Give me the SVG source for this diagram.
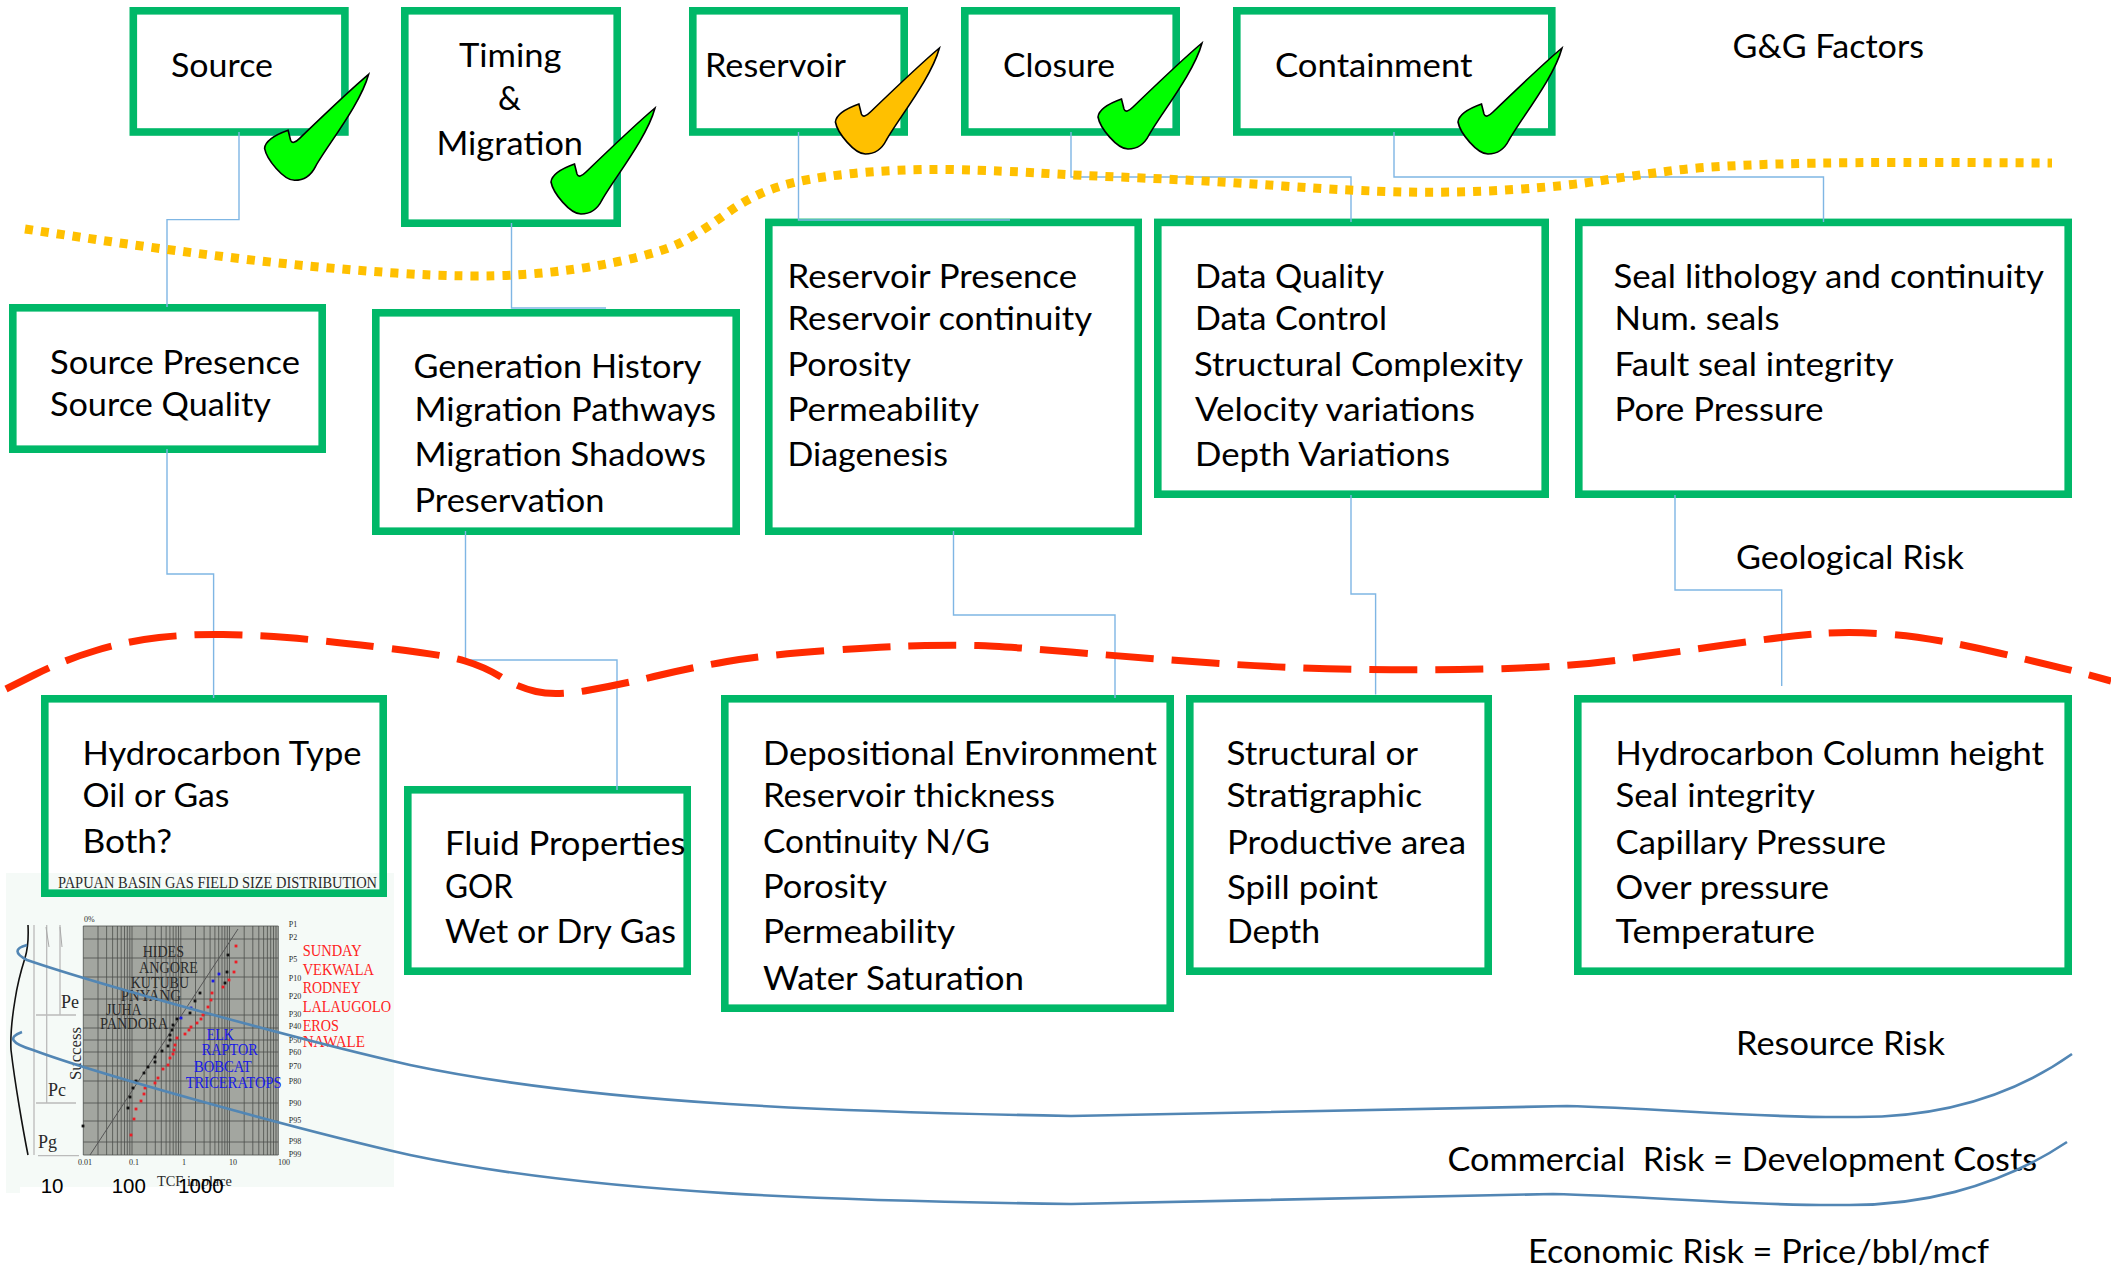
<svg xmlns="http://www.w3.org/2000/svg" width="2111" height="1268" viewBox="0 0 2111 1268">
<style>
text{font-family:"Lato","Liberation Sans",sans-serif;fill:#000}
.t{font-size:33.5px;transform:translate(-1px,1px)}
.box{fill:none;stroke:#00b868;stroke-width:7.6}
.conn{fill:none;stroke:#7fb6e4;stroke-width:1.4}
.yel{fill:none;stroke:#ffc000;stroke-width:9;stroke-dasharray:8 8}
.red{fill:none;stroke:#ff2a00;stroke-width:7;stroke-dasharray:48 18}
.blu{fill:none;stroke:#5286b4;stroke-width:2.6}
.ck{stroke:#000;stroke-width:1.6}
.g{fill:#00ff00}.o{fill:#ffc000}
.s text{font-family:"Liberation Serif",serif;fill:#2a2a2a}
.p{font-size:8px}.n{font-size:17px}
.s text.rd{fill:#ff2222}.s text.bl{fill:#1a1ae6}
.sa{font-family:"Liberation Sans",sans-serif;font-size:20.5px}
.grid{fill:none;stroke:#4c4f4b;stroke-width:.8}
</style>
<defs>
<path id="check" d="M0,0C-12,10-42,38-69,64Q-76,71-78,66L-80.5,56Q-103,64-104,74C-102,85-85,106-74,106C-63,106-57,100-53,92C-42,72-8,30 0,0Z"/>
<path id="dec" d="M0,926V1155M14.7,926V1155M23.3,926V1155M29.3,926V1155M34.1,926V1155M37.9,926V1155M41.2,926V1155M44,926V1155M46.5,926V1155"/>
<g id="bd"><rect x="-1.4" y="-1.4" width="2.8" height="2.8"/></g>
</defs>

<rect id="chart-bg" x="6" y="873" width="388" height="314" fill="#f5faf7"/>
<rect x="6" y="1187" width="14" height="6" fill="#f5faf7"/>

<g id="source"><rect class="box" x="133.3" y="10.8" width="211.6" height="121.2"/><text class="t" x="172" y="75.7" textLength="102" lengthAdjust="spacingAndGlyphs">Source</text></g>
<g id="timing"><rect class="box" x="404.8" y="10.8" width="212.4" height="212.4"/><text class="t" x="460" y="66" textLength="102.5" lengthAdjust="spacingAndGlyphs">Timing</text><text class="t" x="499" y="109" textLength="23" lengthAdjust="spacingAndGlyphs">&amp;</text><text class="t" x="437.5" y="154" textLength="146.5" lengthAdjust="spacingAndGlyphs">Migration</text></g>
<g id="reservoir"><rect class="box" x="692.8" y="10.8" width="211.4" height="121.2"/><text class="t" x="706" y="75.7" textLength="141" lengthAdjust="spacingAndGlyphs">Reservoir</text></g>
<g id="closure"><rect class="box" x="964.8" y="10.8" width="211.4" height="121.2"/><text class="t" x="1004" y="75.7" textLength="112" lengthAdjust="spacingAndGlyphs">Closure</text></g>
<g id="containment"><rect class="box" x="1236.8" y="10.8" width="315" height="121.2"/><text class="t" x="1276" y="75.7" textLength="197.5" lengthAdjust="spacingAndGlyphs">Containment</text></g>

<g id="source-details"><rect class="box" x="12.8" y="307.8" width="309.4" height="141.4"/><text class="t" x="51" y="372.5" textLength="250" lengthAdjust="spacingAndGlyphs">Source Presence</text><text class="t" x="51" y="415" textLength="221" lengthAdjust="spacingAndGlyphs">Source Quality</text></g>
<g id="migration-details"><rect class="box" x="375.8" y="312.8" width="360.4" height="218.4"/><text class="t" x="414.5" y="377" textLength="288" lengthAdjust="spacingAndGlyphs">Generation History</text><text class="t" x="415.5" y="420" textLength="301.5" lengthAdjust="spacingAndGlyphs">Migration Pathways</text><text class="t" x="415.5" y="465" textLength="291.5" lengthAdjust="spacingAndGlyphs">Migration Shadows</text><text class="t" x="415.5" y="510.7" textLength="190" lengthAdjust="spacingAndGlyphs">Preservation</text></g>
<g id="reservoir-details"><rect class="box" x="768.8" y="222.4" width="369.4" height="308.8"/><text class="t" x="788.5" y="287" textLength="289.5" lengthAdjust="spacingAndGlyphs">Reservoir Presence</text><text class="t" x="788.5" y="329" textLength="304.5" lengthAdjust="spacingAndGlyphs">Reservoir continuity</text><text class="t" x="788.5" y="375" textLength="123.5" lengthAdjust="spacingAndGlyphs">Porosity</text><text class="t" x="788.5" y="420" textLength="191.5" lengthAdjust="spacingAndGlyphs">Permeability</text><text class="t" x="788.5" y="465" textLength="160.5" lengthAdjust="spacingAndGlyphs">Diagenesis</text></g>
<g id="closure-details"><rect class="box" x="1157.8" y="222.4" width="387.4" height="271.8"/><text class="t" x="1196" y="287" textLength="189" lengthAdjust="spacingAndGlyphs">Data Quality</text><text class="t" x="1196" y="329" textLength="192" lengthAdjust="spacingAndGlyphs">Data Control</text><text class="t" x="1195" y="375" textLength="329" lengthAdjust="spacingAndGlyphs">Structural Complexity</text><text class="t" x="1196" y="420" textLength="280" lengthAdjust="spacingAndGlyphs">Velocity variations</text><text class="t" x="1196" y="465" textLength="255" lengthAdjust="spacingAndGlyphs">Depth Variations</text></g>
<g id="seal-details"><rect class="box" x="1578.8" y="222.4" width="489.4" height="271.8"/><text class="t" x="1614.5" y="287" textLength="430.5" lengthAdjust="spacingAndGlyphs">Seal lithology and continuity</text><text class="t" x="1615.6" y="329" textLength="165" lengthAdjust="spacingAndGlyphs">Num. seals</text><text class="t" x="1615.6" y="375" textLength="279" lengthAdjust="spacingAndGlyphs">Fault seal integrity</text><text class="t" x="1615.6" y="420" textLength="209" lengthAdjust="spacingAndGlyphs">Pore Pressure</text></g>

<g id="hydrocarbon-type"><rect class="box" x="44.8" y="698.8" width="338.4" height="194.4"/><text class="t" x="83.5" y="764" textLength="279" lengthAdjust="spacingAndGlyphs">Hydrocarbon Type</text><text class="t" x="83.5" y="806" textLength="147" lengthAdjust="spacingAndGlyphs">Oil or Gas</text><text class="t" x="83.5" y="852" textLength="89.5" lengthAdjust="spacingAndGlyphs">Both?</text></g>
<g id="fluid"><rect class="box" x="407.8" y="789.8" width="279.4" height="181.4"/><text class="t" x="446" y="854" textLength="240.6" lengthAdjust="spacingAndGlyphs">Fluid Properties</text><text class="t" x="446" y="897" textLength="68" lengthAdjust="spacingAndGlyphs">GOR</text><text class="t" x="446" y="942" textLength="231" lengthAdjust="spacingAndGlyphs">Wet or Dry Gas</text></g>
<g id="depositional"><rect class="box" x="724.8" y="698.8" width="445.4" height="309.4"/><text class="t" x="764" y="764" textLength="394" lengthAdjust="spacingAndGlyphs">Depositional Environment</text><text class="t" x="764" y="806" textLength="292" lengthAdjust="spacingAndGlyphs">Reservoir thickness</text><text class="t" x="764" y="852" textLength="227" lengthAdjust="spacingAndGlyphs">Continuity N/G</text><text class="t" x="764" y="897" textLength="124" lengthAdjust="spacingAndGlyphs">Porosity</text><text class="t" x="764" y="942" textLength="192" lengthAdjust="spacingAndGlyphs">Permeability</text><text class="t" x="764" y="989" textLength="261" lengthAdjust="spacingAndGlyphs">Water Saturation</text></g>
<g id="structural"><rect class="box" x="1189.8" y="698.8" width="298.4" height="272.4"/><text class="t" x="1227.5" y="764" textLength="191.5" lengthAdjust="spacingAndGlyphs">Structural or</text><text class="t" x="1227.5" y="806" textLength="195.5" lengthAdjust="spacingAndGlyphs">Stratigraphic</text><text class="t" x="1228" y="852.5" textLength="239" lengthAdjust="spacingAndGlyphs">Productive area</text><text class="t" x="1228" y="897.6" textLength="151" lengthAdjust="spacingAndGlyphs">Spill point</text><text class="t" x="1228" y="942" textLength="93" lengthAdjust="spacingAndGlyphs">Depth</text></g>
<g id="column"><rect class="box" x="1577.8" y="698.8" width="490.4" height="272.4"/><text class="t" x="1616.6" y="764" textLength="428.4" lengthAdjust="spacingAndGlyphs">Hydrocarbon Column height</text><text class="t" x="1616.6" y="806" textLength="199.4" lengthAdjust="spacingAndGlyphs">Seal integrity</text><text class="t" x="1616.6" y="852.5" textLength="270.4" lengthAdjust="spacingAndGlyphs">Capillary Pressure</text><text class="t" x="1616.6" y="897.6" textLength="213.4" lengthAdjust="spacingAndGlyphs">Over pressure</text><text class="t" x="1616.6" y="942" textLength="199.4" lengthAdjust="spacingAndGlyphs">Temperature</text></g>

<g id="level-labels">
<text class="t" x="1733.5" y="57" textLength="191.5" lengthAdjust="spacingAndGlyphs">G&amp;G Factors</text>
<text class="t" x="1737" y="567.5" textLength="228" lengthAdjust="spacingAndGlyphs">Geological Risk</text>
<text class="t" x="1737" y="1054" textLength="209" lengthAdjust="spacingAndGlyphs">Resource Risk</text>
<text class="t" x="1448.6" y="1170" textLength="589.4" lengthAdjust="spacingAndGlyphs" xml:space="preserve">Commercial  Risk = Development Costs</text>
<text class="t" x="1529" y="1262" textLength="461" lengthAdjust="spacingAndGlyphs">Economic Risk = Price/bbl/mcf</text>
</g>

<g id="chart">
<g class="s">
<text x="58" y="888" font-size="16" textLength="319" lengthAdjust="spacingAndGlyphs">PAPUAN BASIN GAS FIELD SIZE DISTRIBUTION</text>
</g>
<rect x="83.3" y="926" width="195" height="229" fill="#a3a6a0"/>
<g class="grid">
<use href="#dec" x="83.3"/><use href="#dec" x="132"/><use href="#dec" x="180.8"/><use href="#dec" x="229.5"/>
<path d="M278.3,926V1155M83.3,926H278.3M83.3,939H278.3M83.3,958H278.3M83.3,977H278.3M83.3,999H278.3M83.3,1015H278.3M83.3,1028H278.3M83.3,1040H278.3M83.3,1052H278.3M83.3,1066H278.3M83.3,1081H278.3M83.3,1103H278.3M83.3,1121H278.3M83.3,1142H278.3M83.3,1155H278.3"/>
</g>
<path d="M90,1155L238,929" stroke="#555" stroke-width="1" fill="none"/>
<path d="M28,925Q29,945 25,958Q18,980 15,1000Q10,1030 11,1050Q14,1075 19,1105Q24,1135 28,1155" fill="none" stroke="#111" stroke-width="1.6"/>
<path d="M34,925V1155M46.7,925V1103M60,925V1015M36,1015H76M36,1103H76M38,1155.7H79" fill="none" stroke="#bbb" stroke-width="1.3"/>
<path d="M46,927L49,947M60,927L62,947" fill="none" stroke="#aaa" stroke-width="1"/>
<g class="s">
<text class="p" x="84" y="921.7">0%</text>
<text class="p" x="288.7" y="927">P1</text><text class="p" x="288.7" y="940">P2</text><text class="p" x="288.7" y="962">P5</text><text class="p" x="288.7" y="981">P10</text><text class="p" x="288.7" y="999">P20</text><text class="p" x="288.7" y="1017">P30</text><text class="p" x="288.7" y="1029">P40</text><text class="p" x="288.7" y="1043">P50</text><text class="p" x="288.7" y="1055">P60</text><text class="p" x="288.7" y="1069">P70</text><text class="p" x="288.7" y="1084">P80</text><text class="p" x="288.7" y="1106">P90</text><text class="p" x="288.7" y="1123">P95</text><text class="p" x="288.7" y="1144">P98</text><text class="p" x="288.7" y="1157">P99</text>
<text class="p" x="78" y="1165">0.01</text><text class="p" x="129" y="1165">0.1</text><text class="p" x="182" y="1165">1</text><text class="p" x="229" y="1165">10</text><text class="p" x="278" y="1165">100</text>
<text x="157" y="1186" font-size="15" textLength="75" lengthAdjust="spacingAndGlyphs">TCF in place</text>
<text x="61" y="1008" font-size="18">Pe</text><text x="48" y="1095.7" font-size="18">Pc</text><text x="38" y="1148" font-size="18">Pg</text>
<text transform="translate(81,1080) rotate(-90)" font-size="17" textLength="53" lengthAdjust="spacingAndGlyphs">Success</text>
<text class="n" x="142.7" y="957" textLength="41.3" lengthAdjust="spacingAndGlyphs">HIDES</text>
<text class="n" x="139" y="972.7" textLength="59" lengthAdjust="spacingAndGlyphs">ANGORE</text>
<text class="n" x="130.7" y="988" textLength="58.3" lengthAdjust="spacingAndGlyphs">KUTUBU</text>
<text class="n" x="120.7" y="1000.7" textLength="60.3" lengthAdjust="spacingAndGlyphs">PNYANG</text>
<text class="n" x="106" y="1015" textLength="35.7" lengthAdjust="spacingAndGlyphs">JUHA</text>
<text class="n" x="100" y="1029" textLength="68" lengthAdjust="spacingAndGlyphs">PANDORA</text>
<text class="n rd" x="302.7" y="955.7" textLength="59" lengthAdjust="spacingAndGlyphs">SUNDAY</text>
<text class="n rd" x="302.7" y="975" textLength="71.3" lengthAdjust="spacingAndGlyphs">VEKWALA</text>
<text class="n rd" x="302.7" y="992.7" textLength="58" lengthAdjust="spacingAndGlyphs">RODNEY</text>
<text class="n rd" x="302.7" y="1012" textLength="88.3" lengthAdjust="spacingAndGlyphs">LALAUGOLO</text>
<text class="n rd" x="302.7" y="1031" textLength="36.3" lengthAdjust="spacingAndGlyphs">EROS</text>
<text class="n rd" x="302.7" y="1047" textLength="62.3" lengthAdjust="spacingAndGlyphs">NAWALE</text>
<text class="n bl" x="206.7" y="1040" textLength="27.3" lengthAdjust="spacingAndGlyphs">ELK</text>
<text class="n bl" x="201.7" y="1055" textLength="56" lengthAdjust="spacingAndGlyphs">RAPTOR</text>
<text class="n bl" x="194" y="1072" textLength="57.7" lengthAdjust="spacingAndGlyphs">BOBCAT</text>
<text class="n bl" x="185.7" y="1088" textLength="96" lengthAdjust="spacingAndGlyphs">TRICERATOPS</text>
</g>
<g fill="#111">
<use href="#bd" x="83" y="1126"/><use href="#bd" x="128" y="1108"/><use href="#bd" x="130" y="1097"/><use href="#bd" x="133" y="1088"/><use href="#bd" x="136" y="1081"/><use href="#bd" x="144" y="1073"/><use href="#bd" x="148" y="1067"/><use href="#bd" x="155" y="1062"/><use href="#bd" x="155" y="1057"/><use href="#bd" x="162" y="1051"/><use href="#bd" x="168" y="1046"/><use href="#bd" x="170" y="1040"/><use href="#bd" x="170" y="1035"/><use href="#bd" x="172" y="1030"/><use href="#bd" x="173" y="1025"/><use href="#bd" x="177" y="1019"/><use href="#bd" x="190" y="1013"/><use href="#bd" x="195" y="1001"/><use href="#bd" x="200" y="993"/><use href="#bd" x="225" y="983"/><use href="#bd" x="227" y="972"/><use href="#bd" x="228" y="955"/>
</g>
<g fill="#ee1c25">
<use href="#bd" x="131" y="1135"/><use href="#bd" x="134" y="1119"/><use href="#bd" x="136" y="1109"/><use href="#bd" x="141" y="1101"/><use href="#bd" x="144" y="1094"/><use href="#bd" x="145" y="1088"/><use href="#bd" x="155" y="1083"/><use href="#bd" x="158" y="1078"/><use href="#bd" x="163" y="1069"/><use href="#bd" x="168" y="1065"/><use href="#bd" x="170" y="1058"/><use href="#bd" x="173" y="1054"/><use href="#bd" x="174" y="1050"/><use href="#bd" x="175" y="1045"/><use href="#bd" x="177" y="1038"/><use href="#bd" x="185" y="1034"/><use href="#bd" x="189" y="1030"/><use href="#bd" x="191" y="1027"/><use href="#bd" x="197" y="1023"/><use href="#bd" x="201" y="1019"/><use href="#bd" x="203" y="1015"/><use href="#bd" x="208" y="1007"/><use href="#bd" x="211" y="1000"/><use href="#bd" x="212" y="993"/><use href="#bd" x="223" y="987"/><use href="#bd" x="229" y="980"/><use href="#bd" x="234" y="972"/><use href="#bd" x="236" y="962"/><use href="#bd" x="236" y="946"/>
</g>
<g fill="#1a1ae6">
<use href="#bd" x="181" y="1018"/><use href="#bd" x="191" y="1008"/><use href="#bd" x="213" y="981"/><use href="#bd" x="219" y="974"/>
</g>
<g><text class="sa" x="40.7" y="1192.7">10</text><text class="sa" x="111.7" y="1192.7">100</text><text class="sa" x="178" y="1192.7">1000</text></g>
</g>

<g id="connectors">
<path class="conn" d="M239,132V219.6H167V307"/>
<path class="conn" d="M511.5,223V308H606"/>
<path class="conn" d="M798.5,132V220H1010"/>
<path class="conn" d="M1071,132V177H1351V222"/>
<path class="conn" d="M1394,132V177H1823.5V222"/>
<path class="conn" d="M167,449V574H213.6V698"/>
<path class="conn" d="M465.5,531V660H617V790"/>
<path class="conn" d="M953.5,531V615H1115V698"/>
<path class="conn" d="M1351,495V594H1375.6V694.5"/>
<path class="conn" d="M1675,495V590H1781.7V686"/>
</g>

<g id="risk-lines">
<path class="yel" d="M25,229L96,239.5Q167,250 243,259Q319,268 395.5,273Q472,278 523,274.5Q574,271 618.5,261.5Q663,252 682,242Q701,232 726.5,213.5Q752,195 778,187Q803.6,178.6 848,174Q893,169 950,169.5Q1007,171 1039,173Q1071,175 1142,178Q1213,181 1283,186Q1354,191 1407,192Q1461,193 1514,189.5Q1567,186 1602,180.5Q1638,175 1673,170.5Q1709,166 1779,164Q1850,162 1951,162.5L2052,163"/>
<path class="red" d="M6,689L35,674.5Q64,660 96,650.5Q127.5,641 159,637.5Q191,634 223,634.5Q255,635 287,637.5Q319,640 382,647.5Q446,655 465,661Q485,667 501,677Q517,687 536,691.5Q555,696 587,690.5Q619,685 654,676.5Q689,668 727,661.5Q765,655 829,650.5Q893,646 925,645.5Q957,645 978,645.5Q1000,646 1071,652Q1142,658 1213,663Q1283.5,668 1354,669.3Q1425,670.6 1496,668.8Q1567,667 1620,659.8Q1673,652.5 1726,644.8Q1780,637 1815,634Q1850,631 1893,634.5Q1935.5,638 1999,653Q2063,668 2087,674.5L2111,681"/>
<path class="blu" d="M27,945Q8,950 27,960C100,985 300,1040 410,1065C600,1105 850,1112 1071,1116Q1320,1110 1567,1106C1660,1108 1750,1118 1850,1117C1920,1118 2000,1105 2072,1054"/>
<path class="blu" d="M22,1032Q0,1040 33,1050C100,1075 300,1130 410,1155C600,1195 850,1201 1071,1204Q1320,1198 1553,1194C1650,1196 1740,1206 1843,1205C1915,1206 1995,1190 2067,1142"/>
</g>

<g id="checks">
<use class="ck g" href="#check" x="368.6" y="74.3"/>
<use class="ck g" href="#check" x="655" y="108"/>
<use class="ck o" href="#check" x="939.4" y="48"/>
<use class="ck g" href="#check" x="1202" y="43"/>
<use class="ck g" href="#check" x="1562" y="48"/>
</g>
</svg>
